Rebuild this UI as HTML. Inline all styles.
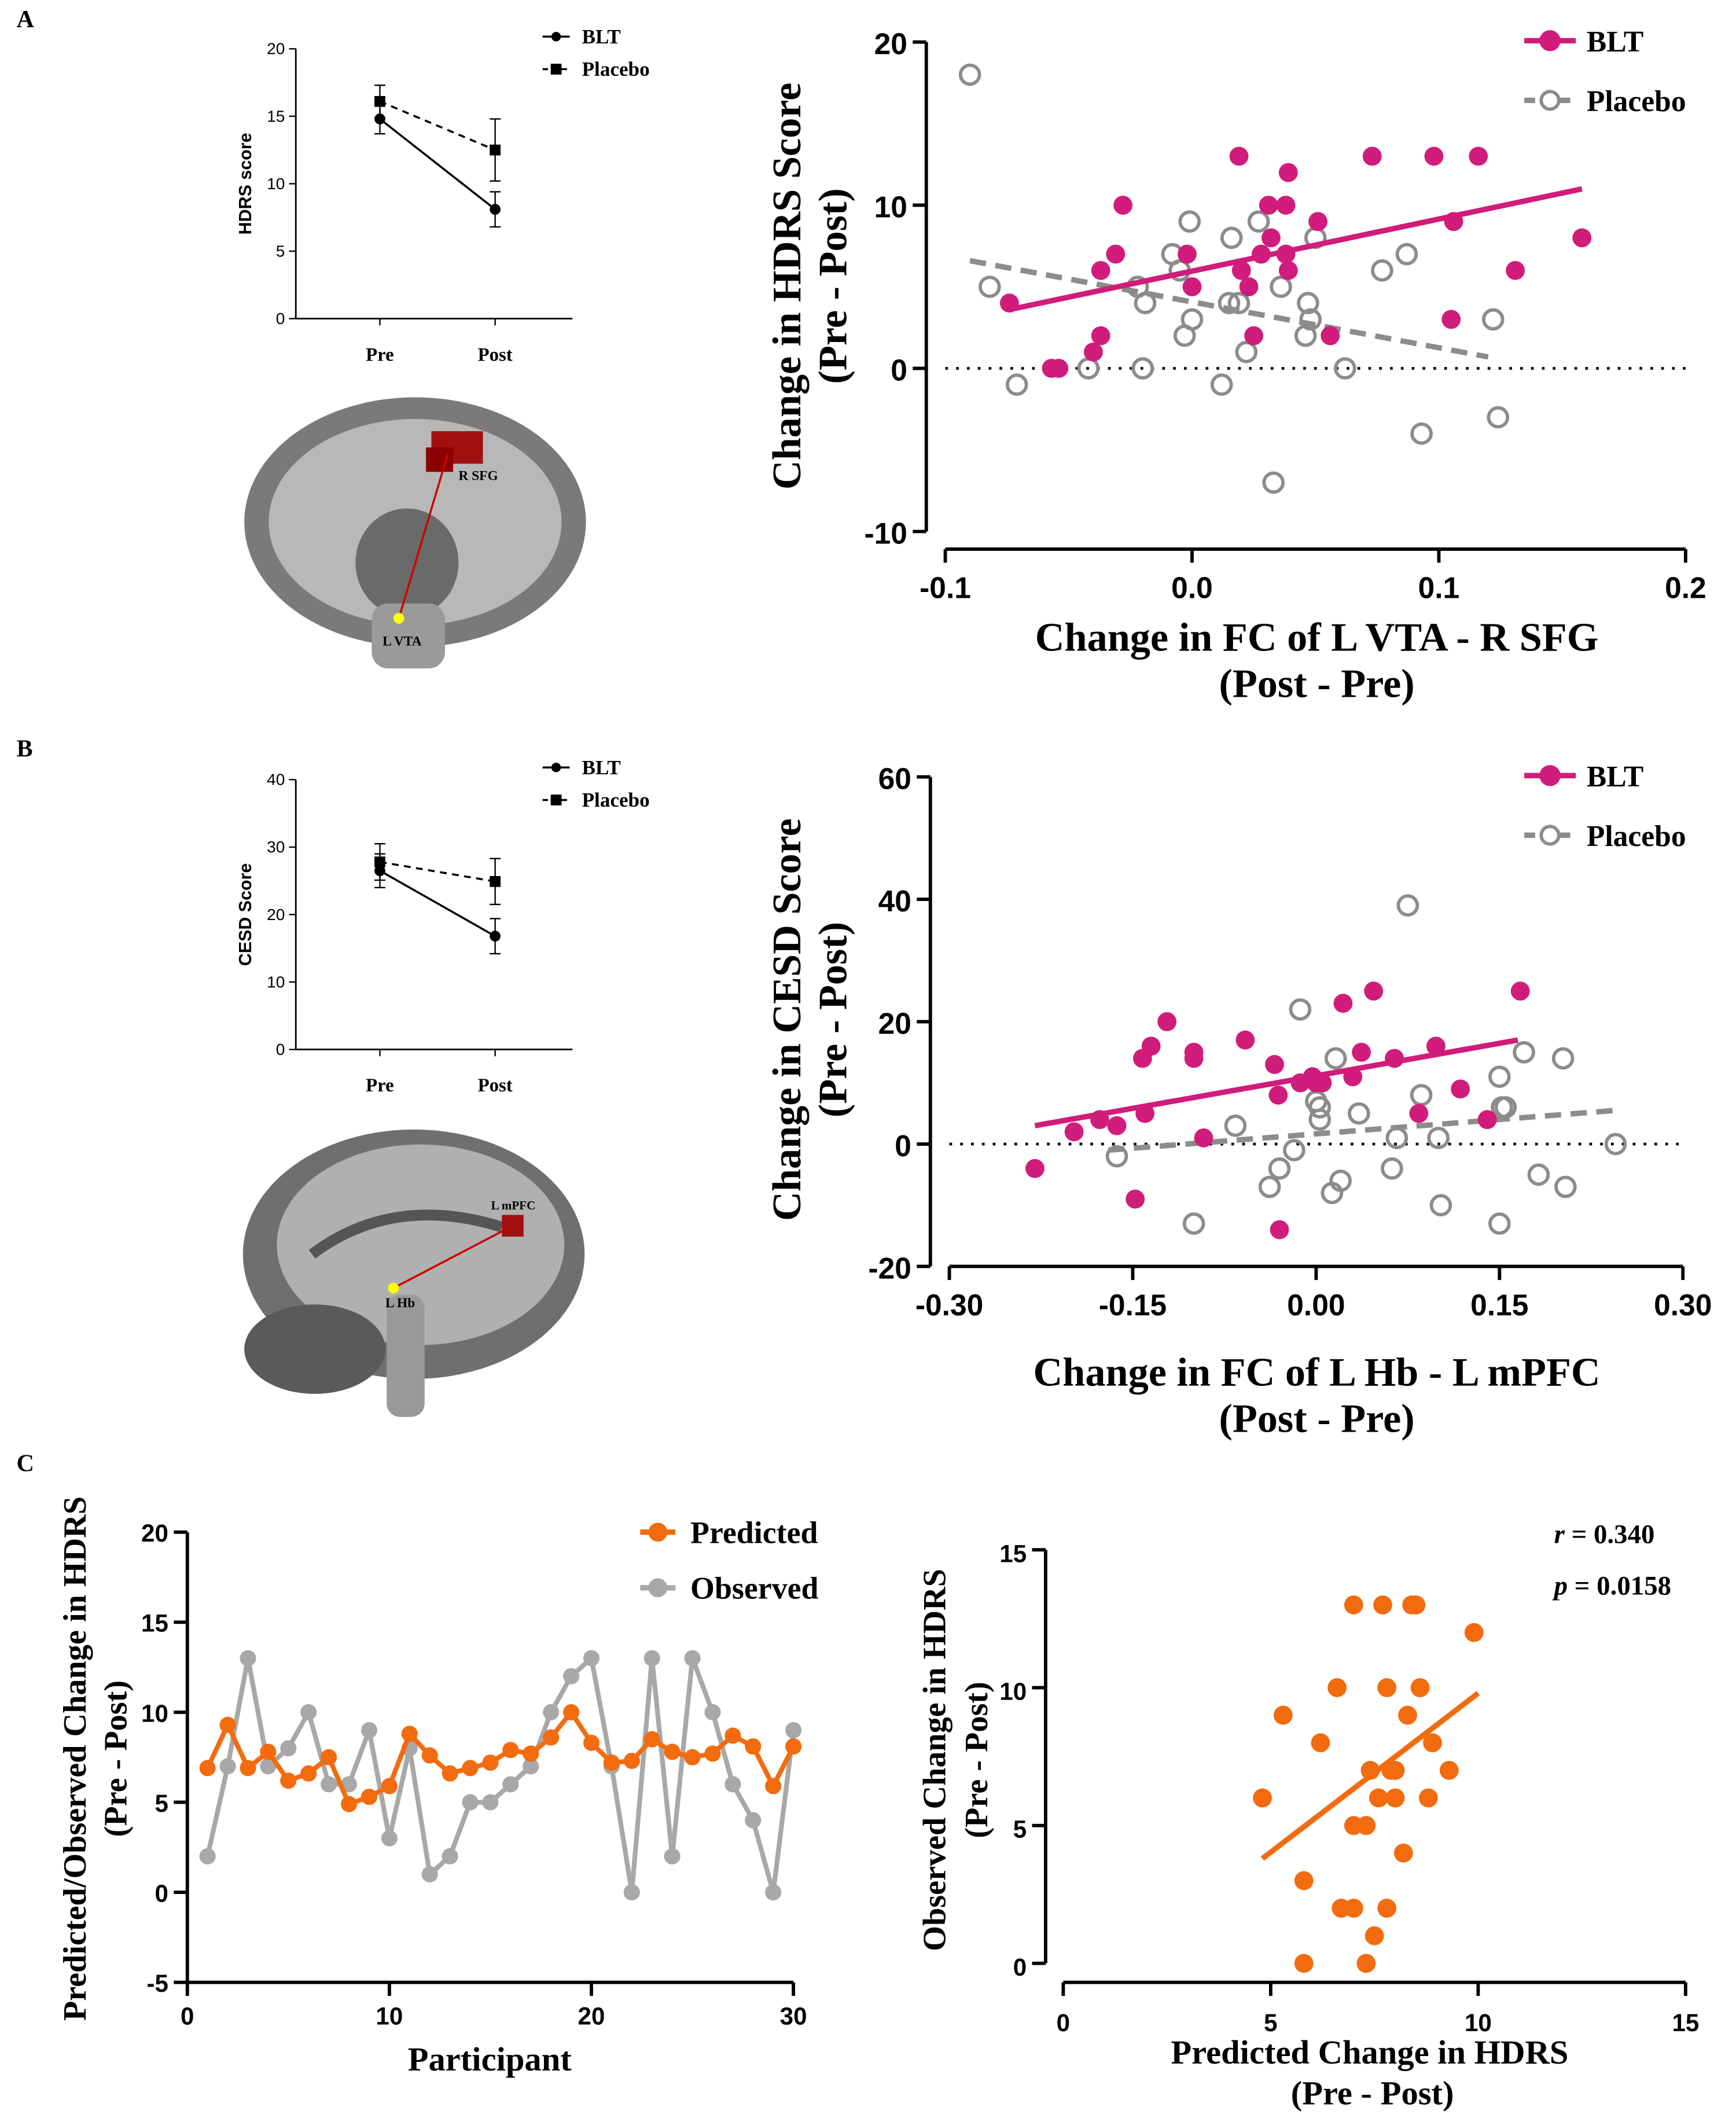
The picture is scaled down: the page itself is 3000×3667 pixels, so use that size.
<!DOCTYPE html>
<html><head><meta charset="utf-8"><style>
html,body{margin:0;padding:0;background:#fff}
svg{display:block}
.t{font-family:"Liberation Serif",serif;font-weight:bold}
.s{font-family:"Liberation Sans",sans-serif}
</style></head><body>
<svg id="fig" width="3000" height="3667" viewBox="0 0 1280 1565" xmlns="http://www.w3.org/2000/svg">
<rect width="1280" height="1565" fill="#fff"/>
<text class="t" x="12" y="20" font-size="18">A</text>
<text class="t" x="12" y="558" font-size="18">B</text>
<text class="t" x="12" y="1085" font-size="18">C</text>
<g>
<ellipse cx="306" cy="385" rx="126" ry="92" fill="#7a7a7a"/>
<ellipse cx="306" cy="385" rx="108" ry="76" fill="#b8b8b8"/>
<ellipse cx="300" cy="415" rx="38" ry="40" fill="#6a6a6a"/>
<rect x="274" y="445" width="54" height="48" rx="12" fill="#9a9a9a"/>
<rect x="318" y="318" width="38" height="24" fill="#a01010"/><rect x="314" y="330" width="20" height="18" fill="#8b0000"/>
<line x1="294" y1="456" x2="330" y2="335" stroke="#c00" stroke-width="1.5"/>
<circle cx="294" cy="456" r="4" fill="#ff0"/>
<text x="338" y="354" font-size="10" class="t" font-weight="normal">R SFG</text>
<text x="282" y="476" font-size="10" class="t" font-weight="normal">L VTA</text>
</g>
<g>
<ellipse cx="305" cy="925" rx="126" ry="92" fill="#6f6f6f"/>
<ellipse cx="310" cy="918" rx="106" ry="74" fill="#b0b0b0"/>
<path d="M230,925 Q290,880 370,905" stroke="#555" stroke-width="8" fill="none"/>
<ellipse cx="232" cy="995" rx="52" ry="33" fill="#5a5a5a"/>
<rect x="285" y="955" width="28" height="90" rx="10" fill="#999"/>
<rect x="370" y="896" width="16" height="16" fill="#a01010"/>
<line x1="290" y1="950" x2="378" y2="904" stroke="#c00" stroke-width="1.5"/>
<circle cx="290" cy="950" r="4" fill="#ff0"/>
<text x="362" y="892" font-size="9" class="t" font-weight="normal">L mPFC</text>
<text x="284" y="964" font-size="10" class="t" font-weight="normal">L Hb</text>
</g>
<g id="gA1"></g><g id="gB1"></g><g id="gA2"></g><g id="gB2"></g><g id="gC1"></g><g id="gC2"></g>
</svg>
<script>
const preA=[14.8,16.1], postA=[8.1,12.5], errPreA=[1.1,1.2], errPostA=[1.3,2.3];
const preB=[26.5,27.8], postB=[16.8,24.9], errPreB=[2.5,2.7], errPostB=[2.6,3.4];
const aBltX=[-0.074,-0.057,-0.054,-0.04,-0.037,-0.037,-0.031,-0.028,-0.002,0.0,0.019,0.02,0.023,0.025,0.028,0.031,0.032,0.038,0.039,0.038,0.039,0.051,0.056,0.073,0.098,0.106,0.105,0.116,0.131,0.158];
const aBltY=[4,0,0,1,2,6,7,10,7,5,13,6,5,2,7,10,8,7,6,10,12,9,2,13,13,9,3,13,6,8];
const aPlaX=[-0.09,-0.082,-0.071,-0.042,-0.02,-0.022,-0.019,-0.008,-0.005,-0.001,-0.003,0.0,0.012,0.016,0.015,0.019,0.022,0.027,0.036,0.033,0.047,0.046,0.048,0.05,0.062,0.077,0.087,0.093,0.122,0.124];
const aPlaY=[18,5,-1,0,0,5,4,7,6,9,2,3,-1,8,4,4,1,9,5,-7,4,2,3,8,0,6,7,-4,3,-3];
const aFitBlt=[-0.074,3.6,0.158,11], aFitPla=[-0.09,6.6,0.12,0.7];
const aXTicks=[-0.1,0.0,0.1,0.2], aXLabels=["-0.1","0.0","0.1","0.2"], aYTicks=[-10,0,10,20];
const bBltX=[-0.23,-0.198,-0.177,-0.163,-0.148,-0.14,-0.142,-0.135,-0.122,-0.1,-0.1,-0.092,-0.058,-0.034,-0.031,-0.03,-0.013,-0.003,0.0,0.005,0.022,0.03,0.037,0.047,0.064,0.084,0.098,0.118,0.14,0.167];
const bBltY=[-4,2,4,3,-9,5,14,16,20,15,14,1,17,13,8,-14,10,11,10,10,23,11,15,25,14,5,16,9,4,25];
const bPlaX=[-0.163,-0.1,-0.066,-0.038,-0.03,-0.018,-0.013,0.0,0.003,0.003,0.013,0.016,0.02,0.035,0.062,0.066,0.075,0.086,0.1,0.102,0.15,0.152,0.155,0.15,0.17,0.182,0.202,0.204,0.245];
const bPlaY=[-2,-13,3,-7,-4,-1,22,7,6,4,-8,14,-6,5,-4,1,39,8,1,-10,11,6,6,-13,15,-5,14,-7,0];
const bFitBlt=[-0.23,3,0.165,17], bFitPla=[-0.17,-1,0.245,5.5];
const bXTicks=[-0.30,-0.15,0,0.15,0.30], bXLabels=["-0.30","-0.15","0.00","0.15","0.30"], bYTicks=[-20,0,20,40,60];
const participants=[1,2,3,4,5,6,7,8,9,10,11,12,13,14,15,16,17,18,19,20,21,22,23,24,25,26,27,28,29,30];
const predicted=[6.9,9.3,6.9,7.8,6.2,6.6,7.5,4.9,5.3,5.9,8.8,7.6,6.6,6.9,7.2,7.9,7.7,8.6,10,8.3,7.2,7.3,8.5,7.8,7.5,7.7,8.7,8.1,5.9,8.1];
const observed=[2,7,13,7,8,10,6,6,9,3,8,1,2,5,5,6,7,10,12,13,7,0,13,2,13,10,6,4,0,9];
const cPredX=[4.8,5.3,5.8,5.8,6.2,6.6,6.7,7.0,7.0,7.0,7.3,7.3,7.4,7.5,7.6,7.7,7.8,7.8,7.9,8.0,8.0,8.2,8.3,8.4,8.5,8.6,8.8,8.9,9.3,9.9];
const cObsY=[6,9,3,0,8,10,2,2,5,13,5,0,7,1,6,13,10,2,7,6,7,4,9,13,13,10,6,8,7,12];
const cFit=[4.8,3.8,10,9.8];

const NS="http://www.w3.org/2000/svg";
function mk(p,tag,at,txt){const e=document.createElementNS(NS,tag);for(const k in at)e.setAttribute(k,at[k]);if(txt!==undefined)e.textContent=txt;p.appendChild(e);return e;}
function lin(d0,d1,r0,r1){return v=>r0+(v-d0)*(r1-r0)/(d1-d0);}

function small(g,yMax,yTicks,ylab,pre,post,ePre,ePost,y0,yTop){
  const sx=[280,365], sy=lin(0,yMax,y0,yTop);
  mk(g,'line',{x1:218,y1:y0,x2:218,y2:yTop,stroke:'#000','stroke-width':1.2});
  mk(g,'line',{x1:218,y1:y0,x2:422,y2:y0,stroke:'#000','stroke-width':1.2});
  yTicks.forEach(v=>{mk(g,'line',{x1:213,y1:sy(v),x2:218,y2:sy(v),stroke:'#000'});
    const t=mk(g,'text',{x:210,y:sy(v)+4,'text-anchor':'end','font-size':12,class:'s'},v);
    });
  ['Pre','Post'].forEach((l,i)=>{mk(g,'line',{x1:sx[i],y1:y0,x2:sx[i],y2:y0+5,stroke:'#000'});
    const t=mk(g,'text',{x:sx[i],y:y0+31,'text-anchor':'middle','font-size':14,class:'t'},l);
    });
  const yt=mk(g,'text',{transform:`translate(185,${(y0+yTop)/2}) rotate(-90)`,'text-anchor':'middle','font-size':13,class:'s','font-weight':'bold'},ylab);
  
  for(let k=0;k<2;k++){
    const ln=mk(g,'line',{x1:sx[0],y1:sy(pre[k]),x2:sx[1],y2:sy(post[k]),stroke:'#000','stroke-width':1.5,'stroke-dasharray':k?'5,4':'none'});
    
    [[pre[k],ePre[k]],[post[k],ePost[k]]].forEach((p,i)=>{
      mk(g,'line',{x1:sx[i],y1:sy(p[0]-p[1]),x2:sx[i],y2:sy(p[0]+p[1]),stroke:'#000'});
      mk(g,'line',{x1:sx[i]-4,y1:sy(p[0]-p[1]),x2:sx[i]+4,y2:sy(p[0]-p[1]),stroke:'#000'});
      mk(g,'line',{x1:sx[i]-4,y1:sy(p[0]+p[1]),x2:sx[i]+4,y2:sy(p[0]+p[1]),stroke:'#000'});
      const m=k?mk(g,'rect',{x:sx[i]-4,y:sy(p[0])-4,width:8,height:8}):mk(g,'circle',{cx:sx[i],cy:sy(p[0]),r:4});
      
    });
  }
  const ly=yTop-9;
  mk(g,'line',{x1:400,y1:ly,x2:420,y2:ly,stroke:'#000','stroke-width':1.5});mk(g,'circle',{cx:410,cy:ly,r:3.5});
  const l1=mk(g,'text',{x:429,y:ly+5,'font-size':15,class:'t'},'BLT');
  mk(g,'line',{x1:400,y1:ly+24,x2:420,y2:ly+24,stroke:'#000','stroke-width':1.5,'stroke-dasharray':'4,3'});mk(g,'rect',{x:406,y:ly+20,width:8,height:8});
  const l2=mk(g,'text',{x:429,y:ly+29,'font-size':15,class:'t'},'Placebo');
}
small(document.getElementById('gA1'),20,[0,5,10,15,20],'HDRS score',preA,postA,errPreA,errPostA,235,36);
small(document.getElementById('gB1'),40,[0,10,20,30,40],'CESD Score',preB,postB,errPreB,errPostB,774,575);

const PINK='#d01c7a', GRAY='#8c8c8c', OR='#f26b0f', LG='#a8a8a8';
function scatter(g,o){
  const sx=lin(o.xd[0],o.xd[1],o.xr[0],o.xr[1]), sy=lin(o.yd[0],o.yd[1],o.yr[0],o.yr[1]);
  mk(g,'line',{x1:o.yax,y1:o.yr[0],x2:o.yax,y2:o.yr[1],stroke:'#000','stroke-width':2.5});
  mk(g,'line',{x1:o.xr[0],y1:o.xax,x2:o.xr[1],y2:o.xax,stroke:'#000','stroke-width':2.5});
  o.yt.forEach(v=>{mk(g,'line',{x1:o.yax-10,y1:sy(v),x2:o.yax,y2:sy(v),stroke:'#000','stroke-width':2.5});
    const t=mk(g,'text',{x:o.yax-14,y:sy(v)+9,'text-anchor':'end','font-size':o.fs,class:'s','font-weight':'bold'},v);
    });
  o.xt.forEach((v,i)=>{mk(g,'line',{x1:sx(v),y1:o.xax,x2:sx(v),y2:o.xax+10,stroke:'#000','stroke-width':2.5});
    const t=mk(g,'text',{x:sx(v),y:o.xax+36,'text-anchor':'middle','font-size':o.fs,class:'s','font-weight':'bold'},o.xl[i]);
    });
  if(o.zero){const z=mk(g,'line',{x1:o.xr[0],y1:sy(0),x2:o.xr[1],y2:sy(0),stroke:'#000','stroke-width':2,'stroke-dasharray':'2,6'});}
  o.series.forEach(s=>{
    s.x.forEach((xv,i)=>{const c=mk(g,'circle',{cx:sx(xv),cy:sy(s.y[i]),r:7,fill:s.open?'none':s.c,stroke:s.c,'stroke-width':s.open?2.5:0});
      });
    if(s.fit){const f=mk(g,'line',{x1:sx(s.fit[0]),y1:sy(s.fit[1]),x2:sx(s.fit[2]),y2:sy(s.fit[3]),stroke:s.c,'stroke-width':4,'stroke-dasharray':s.open?'12,7':'none'});
      }
  });
  o.titles.forEach(tt=>{const t=mk(g,'text',tt.at,tt.s);t.setAttribute('class','t');});
}
function legend(g,x,y,items){items.forEach((it,i)=>{const yy=y+i*44;
  mk(g,'line',{x1:x,y1:yy,x2:x+38,y2:yy,stroke:it.c,'stroke-width':4,'stroke-dasharray':it.open?'8,5':'none'});
  mk(g,'circle',{cx:x+19,cy:yy,r:6.5,fill:it.open?'#fff':it.c,stroke:it.c,'stroke-width':2.5});
  const t=mk(g,'text',{x:x+46,y:yy+8,'font-size':22,class:'t'},it.l);});}

const gA2=document.getElementById('gA2');
scatter(gA2,{xd:[-0.1,0.2],xr:[697,1243],yd:[-10,20],yr:[392,31],yax:683,xax:405,fs:22,zero:true,
 xt:aXTicks,xl:aXLabels,yt:aYTicks,
 series:[{name:'placebo',x:aPlaX,y:aPlaY,c:GRAY,open:true,fit:aFitPla},{name:'blt',x:aBltX,y:aBltY,c:PINK,fit:aFitBlt}],
 titles:[{s:'Change in FC of L VTA - R SFG',n:'x-axis-title',at:{x:971,y:480,'text-anchor':'middle','font-size':30}},
  {s:'(Post - Pre)',n:'x-axis-subtitle',at:{x:971,y:514,'text-anchor':'middle','font-size':30}},
  {s:'Change in  HDRS  Score',n:'y-axis-title',at:{transform:'translate(590,211) rotate(-90)','text-anchor':'middle','font-size':30}},
  {s:'(Pre - Post)',n:'y-axis-subtitle',at:{transform:'translate(624,211) rotate(-90)','text-anchor':'middle','font-size':30}}]});
legend(gA2,1124,30,[{l:'BLT',c:PINK},{l:'Placebo',c:GRAY,open:true}]);

const gB2=document.getElementById('gB2');
scatter(gB2,{xd:[-0.3,0.3],xr:[700,1241],yd:[-20,60],yr:[934,573],yax:686,xax:934,fs:22,zero:true,
 xt:bXTicks,xl:bXLabels,yt:bYTicks,
 series:[{name:'placebo',x:bPlaX,y:bPlaY,c:GRAY,open:true,fit:bFitPla},{name:'blt',x:bBltX,y:bBltY,c:PINK,fit:bFitBlt}],
 titles:[{s:'Change in FC of L Hb - L mPFC',n:'x-axis-title',at:{x:971,y:1022,'text-anchor':'middle','font-size':30}},
  {s:'(Post - Pre)',n:'x-axis-subtitle',at:{x:971,y:1056,'text-anchor':'middle','font-size':30}},
  {s:'Change in CESD Score',n:'y-axis-title',at:{transform:'translate(590,752) rotate(-90)','text-anchor':'middle','font-size':30}},
  {s:'(Pre - Post)',n:'y-axis-subtitle',at:{transform:'translate(624,752) rotate(-90)','text-anchor':'middle','font-size':30}}]});
legend(gB2,1124,572,[{l:'BLT',c:PINK},{l:'Placebo',c:GRAY,open:true}]);

const gC1=document.getElementById('gC1');
(function(){const g=gC1,sx=lin(0,30,138,585),sy=lin(-5,20,1462,1130);
 mk(g,'line',{x1:138,y1:1462,x2:138,y2:1130,stroke:'#000','stroke-width':2.5});
 mk(g,'line',{x1:138,y1:1462,x2:585,y2:1462,stroke:'#000','stroke-width':2.5});
 [-5,0,5,10,15,20].forEach(v=>{mk(g,'line',{x1:128,y1:sy(v),x2:138,y2:sy(v),stroke:'#000','stroke-width':2.5});
  const t=mk(g,'text',{x:124,y:sy(v)+7,'text-anchor':'end','font-size':18,class:'s','font-weight':'bold'},v);});
 [0,10,20,30].forEach(v=>{mk(g,'line',{x1:sx(v),y1:1462,x2:sx(v),y2:1472,stroke:'#000','stroke-width':2.5});
  const t=mk(g,'text',{x:sx(v),y:1493,'text-anchor':'middle','font-size':18,class:'s','font-weight':'bold'},v);});
 [[observed,LG,'observed'],[predicted,OR,'predicted']].forEach(([arr,c,n])=>{
  const p=mk(g,'polyline',{points:arr.map((v,i)=>sx(participants[i])+','+sy(v)).join(' '),fill:'none',stroke:c,'stroke-width':3.5});
  
  arr.forEach((v,i)=>{const cc=mk(g,'circle',{cx:sx(participants[i]),cy:sy(v),r:6,fill:c});});});
 [['Predicted',OR,1130],['Observed',LG,1171]].forEach(([l,c,y])=>{mk(g,'line',{x1:472,y1:y,x2:498,y2:y,stroke:c,'stroke-width':4});mk(g,'circle',{cx:485,cy:y,r:7,fill:c});
  const t=mk(g,'text',{x:509,y:y+8,'font-size':23,class:'t'},l);});
 const xt=mk(g,'text',{x:361,y:1527,'text-anchor':'middle','font-size':25,class:'t'},'Participant');
 const y1=mk(g,'text',{transform:'translate(63,1297) rotate(-90)','text-anchor':'middle','font-size':24,class:'t'},'Predicted/Observed Change in HDRS');
 const y2=mk(g,'text',{transform:'translate(93,1297) rotate(-90)','text-anchor':'middle','font-size':24,class:'t'},'(Pre - Post)');
})();

const gC2=document.getElementById('gC2');
scatter(gC2,{xd:[0,15],xr:[784,1243],yd:[0,15],yr:[1448,1143],yax:771,xax:1462,fs:18,zero:false,
 xt:[0,5,10,15],xl:['0','5','10','15'],yt:[0,5,10,15],
 series:[{name:'observed-vs-predicted',x:cPredX,y:cObsY,c:OR,fit:cFit}],
 titles:[{s:'Predicted Change in HDRS',n:'x-axis-title',at:{x:1010,y:1522,'text-anchor':'middle','font-size':25}},
  {s:'(Pre - Post)',n:'x-axis-subtitle',at:{x:1012,y:1552,'text-anchor':'middle','font-size':25}},
  {s:'Observed Change in HDRS',n:'y-axis-title',at:{transform:'translate(697,1298) rotate(-90)','text-anchor':'middle','font-size':24}},
  {s:'(Pre - Post)',n:'y-axis-subtitle',at:{transform:'translate(728,1298) rotate(-90)','text-anchor':'middle','font-size':24}}]});
(function(){const t1=mk(gC2,'text',{x:1146,y:1138,'font-size':20,class:'t'});mk(t1,'tspan',{'font-style':'italic'},'r');mk(t1,'tspan',{},' = 0.340');
 
 const t2=mk(gC2,'text',{x:1146,y:1176,'font-size':20,class:'t'});mk(t2,'tspan',{'font-style':'italic'},'p');mk(t2,'tspan',{},' = 0.0158');
 })();
</script>
</body></html>
